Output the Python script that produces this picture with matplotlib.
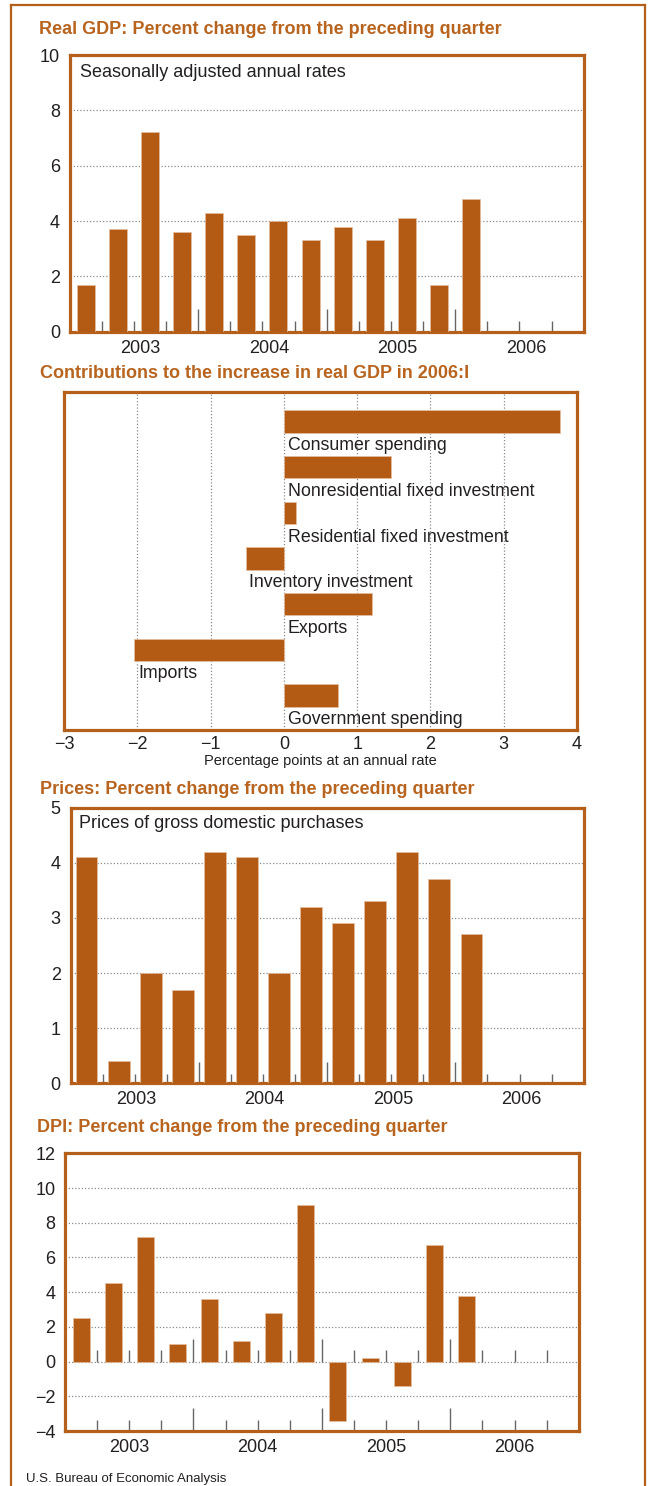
import matplotlib
matplotlib.use('Agg')
import matplotlib.pyplot as plt
import matplotlib.font_manager as fm
import matplotlib.transforms as mtrans
import numpy as np

BAR = '#B35B14'; BAR_EDGE = '#E6BFA0'
FRAME = '#B5601A'; TITLE = '#B8641F'
TXT = '#231F20'; GRID = '#8C8C8C'; TICK = '#666666'

names = {f.name for f in fm.fontManager.ttflist}
NARROW = 'Liberation Sans Narrow' if 'Liberation Sans Narrow' in names else 'Liberation Sans'
plt.rcParams['font.family'] = ['Liberation Sans', 'DejaVu Sans']
plt.rcParams['axes.unicode_minus'] = True

# ---- data ----
years = ['2003', '2004', '2005', '2006']
gdp = [1.7, 3.7, 7.2, 3.6, 4.3, 3.5, 4.0, 3.3, 3.8, 3.3, 4.1, 1.7, 4.8]
prices = [4.1, 0.4, 2.0, 1.7, 4.2, 4.1, 2.0, 3.2, 2.9, 3.3, 4.2, 3.7, 2.7]
dpi_chg = [2.5, 4.5, 7.2, 1.0, 3.6, 1.2, 2.8, 9.0, -3.4, 0.2, -1.4, 6.7, 3.8]
contrib_names = ['Consumer spending', 'Nonresidential fixed investment',
                 'Residential fixed investment', 'Inventory investment',
                 'Exports', 'Imports', 'Government spending']
contrib = [3.77, 1.46, 0.16, -0.52, 1.20, -2.04, 0.74]

W, H = 650, 1486
fig = plt.figure(figsize=(W / 100, H / 100), dpi=100)


def box(l, t, r, b):
    return [l / W, 1 - b / H, (r - l) / W, (b - t) / H]


def frame(ax):
    for s in ax.spines.values():
        s.set_color(FRAME); s.set_linewidth(2.3)


def title(x, y, s):
    fig.text(x / W, 1 - y / H, s, color=TITLE, fontsize=13, fontweight='bold',
             family=NARROW, va='center', ha='left')


def quarterly(ax, vals, ylim, yticks, grid_at, width, short, tall, shift=0.0, zero_ticks=False):
    x = np.arange(len(vals))
    ax.bar(x, vals, width=width, color=BAR, edgecolor=BAR_EDGE, linewidth=0.5, zorder=3)
    ax.set_xlim(-0.5, 15.5)
    ax.set_ylim(*ylim)
    for g in grid_at:
        ax.axhline(g, color=GRID, lw=0.9, ls=(0, (1, 1.6)), zorder=1)
    bnd = np.arange(0.5, 15, 1)
    hts = np.where((bnd + 0.5) % 4 == 0, tall, short)
    tr = mtrans.blended_transform_factory(ax.transData, ax.transAxes)
    ax.vlines(bnd, 0, hts, transform=tr, color=TICK, lw=1.0, zorder=2)
    if zero_ticks:
        span = ylim[1] - ylim[0]
        ax.vlines(bnd, 0, hts * span, color=TICK, lw=1.0, zorder=2)
    ax.set_yticks(yticks)
    ax.set_yticklabels([f'{v:g}'.replace('-', '\u2212') for v in yticks])
    ax.tick_params(axis='y', length=0, pad=7, labelsize=13, labelcolor=TXT)
    ax.set_xticks([])
    for i, yr in enumerate(years):
        ax.annotate(yr, xy=(1.5 + 4 * i + shift, 0), xycoords=tr,
                    xytext=(0, -12), textcoords='offset points',
                    ha='center', va='center', fontsize=13, color=TXT)
    frame(ax)


# ---- Real GDP ----
title(39, 29, 'Real GDP: Percent change from the preceding quarter')
ax1 = fig.add_axes(box(69.6, 55, 583.7, 331.7))
quarterly(ax1, gdp, (0, 10), [0, 2, 4, 6, 8, 10], [2, 4, 6, 8], 0.56, 0.039, 0.082, shift=0.2)
ax1.text(0.02, 0.935, 'Seasonally adjusted annual rates', transform=ax1.transAxes,
         fontsize=13, color=TXT, va='center', ha='left')

# ---- Contributions ----
title(40, 374, 'Contributions to the increase in real GDP in 2006:I')
ax2 = fig.add_axes(box(64, 392, 577, 730))
pos = np.arange(len(contrib))
ax2.barh(pos, contrib, height=0.49, color=BAR, edgecolor=BAR_EDGE, linewidth=0.5, zorder=3)
ax2.set_xlim(-3, 4)
ax2.set_ylim(6.76, -0.65)
for g in range(-2, 4):
    ax2.axvline(g, color=GRID, lw=0.9, ls=(0, (1, 1.6)), zorder=1)
for p, v, nm in zip(pos, contrib, contrib_names):
    ax2.text(min(v, 0) + 0.05, p + 0.53, nm, fontsize=12.8, color=TXT,
             va='center', ha='left', zorder=4)
ax2.set_yticks([])
ax2.set_xticks(range(-3, 5))
ax2.set_xticklabels([f'{v}'.replace('-', '\u2212') for v in range(-3, 5)])
ax2.tick_params(axis='x', length=0, pad=4, labelsize=13, labelcolor=TXT)
ax2.set_xlabel('Percentage points at an annual rate', family=NARROW, fontsize=10.5,
               color=TXT, labelpad=1)
frame(ax2)

# ---- Prices ----
title(40, 789, 'Prices: Percent change from the preceding quarter')
ax3 = fig.add_axes(box(70.5, 807.7, 583.7, 1083.3))
quarterly(ax3, prices, (0, 5), [0, 1, 2, 3, 4, 5], [1, 2, 3, 4], 0.68, 0.034, 0.079, shift=0.05)
ax3.text(0.017, 0.944, 'Prices of gross domestic purchases', transform=ax3.transAxes,
         fontsize=13, color=TXT, va='center', ha='left')

# ---- DPI ----
title(37, 1127, 'DPI: Percent change from the preceding quarter')
ax4 = fig.add_axes(box(65, 1153.3, 578.8, 1431))
quarterly(ax4, dpi_chg, (-4, 12), [-4, -2, 0, 2, 4, 6, 8, 10, 12],
          [-2, 0, 2, 4, 6, 8, 10], 0.53, 0.04, 0.082, zero_ticks=True)

fig.text(25.7 / W, 1 - 1479 / H, 'U.S. Bureau of Economic Analysis', family=NARROW,
         fontsize=9.5, color=TXT, va='center', ha='left')

# outer border (left, top, right)
fig.add_artist(plt.Line2D([11 / W, 11 / W], [0, 1 - 5 / H], color=FRAME, lw=1.6,
                          transform=fig.transFigure))
fig.add_artist(plt.Line2D([11 / W, 645 / W], [1 - 5 / H, 1 - 5 / H], color=FRAME, lw=1.6,
                          transform=fig.transFigure))
fig.add_artist(plt.Line2D([645 / W, 645 / W], [0, 1 - 5 / H], color=FRAME, lw=1.6,
                          transform=fig.transFigure))

fig.savefig('out.png', dpi=100)
